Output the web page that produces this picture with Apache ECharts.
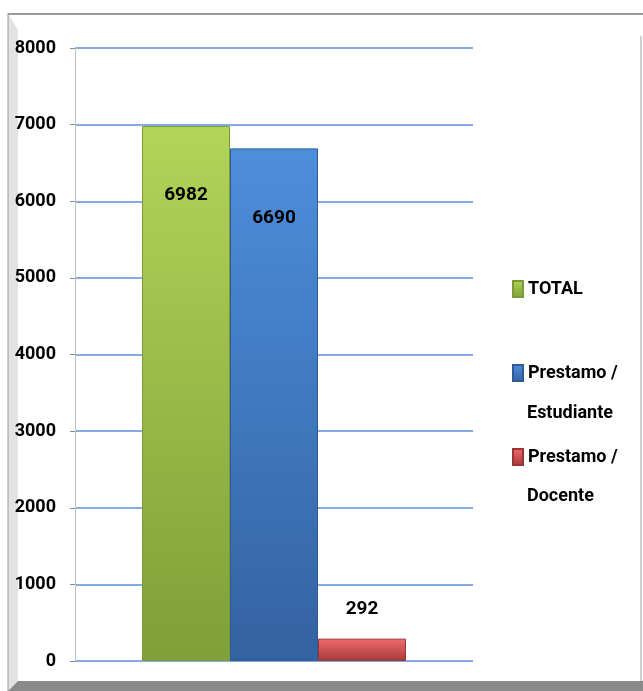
<!DOCTYPE html>
<html>
<head>
<meta charset="utf-8">
<script src="https://cdn.jsdelivr.net/npm/echarts@6/dist/echarts.min.js"></script>
<style>
  html, body { margin: 0; padding: 0; background: #fff; }
  #chart { width: 643px; height: 691px; }
</style>
</head>
<body>
<div id="chart"></div>
<script>
// datos del grafico
const categories = ['']
const seriesNames = ['TOTAL', 'Prestamo / Estudiante', 'Prestamo / Docente']
const legendFirstLine = ['TOTAL', 'Prestamo /', 'Prestamo /']
const legendSecondLine = ['', 'Estudiante', 'Docente']
const totalValues = [6982]
const estudianteValues = [6690]
const docenteValues = [292]
const yTicks = [0, 1000, 2000, 3000, 4000, 5000, 6000, 7000, 8000]

const fontFam = 'Roboto, "DejaVu Sans Condensed", sans-serif'

function grad (top, bottom) {
  return new echarts.graphic.LinearGradient(0, 0, 0, 1, [
    { offset: 0, color: top },
    { offset: 1, color: bottom }
  ])
}

const chart = echarts.init(document.getElementById('chart'))

const labelStyle = {
  show: true,
  color: '#000',
  fontFamily: fontFam,
  fontWeight: 'bold',
  fontSize: 19
}

const option = {
  backgroundColor: '#fff',
  animation: false,
  grid: { left: 75, right: 170, top: 48, bottom: 30 },
  xAxis: {
    type: 'category',
    data: categories,
    axisLine: { show: false },
    axisTick: { show: false },
    axisLabel: { show: false }
  },
  yAxis: {
    type: 'value',
    min: yTicks[0],
    max: yTicks[yTicks.length - 1],
    interval: 1000,
    axisLine: { show: true, lineStyle: { color: '#bfbfbf', width: 1 } },
    axisTick: { show: true, length: 5, lineStyle: { color: '#8c8c8c' } },
    axisLabel: {
      margin: 19,
      color: '#000',
      fontFamily: fontFam,
      fontWeight: 'bold',
      fontSize: 18,
      formatter: function (v) { return String(v) }
    },
    splitLine: { lineStyle: { color: '#5b8fd8', width: 1.5 } }
  },
  legend: {
    orient: 'vertical',
    left: 512,
    top: 278,
    padding: 0,
    itemWidth: 10,
    itemHeight: 16,
    itemGap: 62,
    icon: 'rect',
    data: seriesNames,
    formatter: function (name) {
      return legendFirstLine[seriesNames.indexOf(name)]
    },
    textStyle: {
      color: '#000',
      fontFamily: fontFam,
      fontWeight: 'bold',
      fontSize: 18,
      lineHeight: 22
    }
  },
  graphic: [
    // marco
    {
      type: 'polygon',
      silent: true,
      z: -10,
      shape: { points: [[8, 13], [18, 30], [18, 681], [8, 691]] },
      style: { fill: '#e3e3e3' }
    },
    {
      type: 'polygon',
      silent: true,
      z: -10,
      shape: { points: [[8, 691], [18, 681], [643, 681], [643, 691]] },
      style: { fill: '#8a8a8a' }
    },
    {
      type: 'line',
      silent: true,
      z: -10,
      shape: { x1: 8, y1: 14, x2: 643, y2: 14 },
      style: { stroke: '#9a9a9a', lineWidth: 2 }
    },
    {
      type: 'line',
      silent: true,
      z: -10,
      shape: { x1: 8, y1: 13, x2: 8, y2: 691 },
      style: { stroke: '#9a9a9a', lineWidth: 1 }
    },
    {
      type: 'line',
      silent: true,
      z: -10,
      shape: { x1: 641, y1: 36, x2: 641, y2: 681 },
      style: { stroke: '#a0a0a0', lineWidth: 1 }
    },
    // segunda linea de la leyenda
    {
      type: 'text',
      left: 527,
      top: 404,
      style: {
        text: legendSecondLine[1],
        fill: '#000',
        font: 'bold 18px ' + fontFam
      }
    },
    {
      type: 'text',
      left: 527,
      top: 487,
      style: {
        text: legendSecondLine[2],
        fill: '#000',
        font: 'bold 18px ' + fontFam
      }
    }
  ],
  series: [
    {
      name: seriesNames[0],
      type: 'bar',
      data: totalValues,
      barWidth: 88,
      barGap: '0%',
      itemStyle: {
        color: grad('#b0d558', '#7f9f38'),
        borderColor: '#7a9a35',
        borderWidth: 1
      },
      label: Object.assign({ position: 'insideTop', distance: 60 }, labelStyle)
    },
    {
      name: seriesNames[1],
      type: 'bar',
      data: estudianteValues,
      barWidth: 88,
      barGap: '0%',
      itemStyle: {
        color: grad('#4d8edb', '#3462a2'),
        borderColor: '#2f5a96',
        borderWidth: 1
      },
      label: Object.assign({ position: 'insideTop', distance: 60 }, labelStyle)
    },
    {
      name: seriesNames[2],
      type: 'bar',
      data: docenteValues,
      barWidth: 88,
      barGap: '0%',
      itemStyle: {
        color: grad('#f06a6a', '#a53b3b'),
        borderColor: '#9a3535',
        borderWidth: 1
      },
      label: Object.assign({ position: 'top', distance: 20 }, labelStyle)
    }
  ]
}

chart.setOption(option)
</script>
</body>
</html>
